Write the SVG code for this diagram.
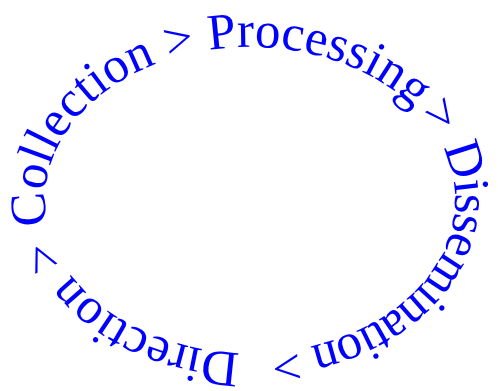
<svg xmlns="http://www.w3.org/2000/svg" xmlns:xlink="http://www.w3.org/1999/xlink" width="498" height="391" viewBox="0 0 498 391">
  <style>
    .cycle { font-family: "Liberation Serif", "DejaVu Serif", serif; font-size: 51px; fill: #0000ff; }
    .tight { letter-spacing: -1.5px; }
  </style>
  <defs>
    <!-- elliptical baseline (centre 250,200; radii 205 x 153), run clockwise from just below the leftmost point -->
    <path id="loop" d="M 47.7,225 A 205,153 0 1,1 452.3,175 A 205,153 0 1,1 47.7,225"/>
  </defs>
  <rect width="498" height="391" fill="#ffffff"/>
  <g id="cycle-label">
    <text class="cycle"><textPath xlink:href="#loop" startOffset="0">Collection &gt; Processing<tspan dx="-6"> &gt; </tspan><tspan class="tight">Dissemination</tspan> &gt; <tspan dx="18">Direction</tspan> &gt;</textPath></text>
  </g>
</svg>
